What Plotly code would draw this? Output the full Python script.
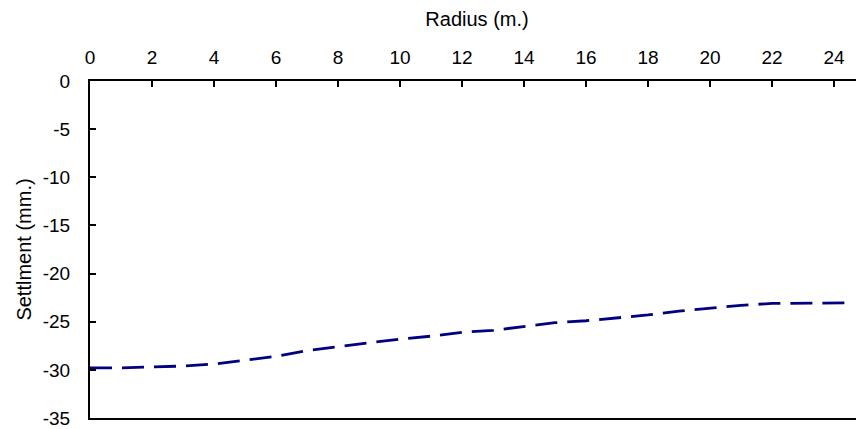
import plotly.graph_objects as go

radius = [0, 1, 2, 3, 4, 5, 6, 7, 8, 9, 10, 11, 12, 13, 14, 15, 16, 17, 18, 19, 20, 21, 22, 23, 24, 24.5]
settlement = [-29.8, -29.8, -29.7, -29.6, -29.4, -29.0, -28.6, -28.0, -27.6, -27.2, -26.8, -26.5,
              -26.1, -25.9, -25.5, -25.1, -24.9, -24.6, -24.3, -23.9, -23.6, -23.3, -23.1, -23.1,
              -23.1, -23.05]

x_ticks = list(range(0, 25, 2))
y_ticks = [0, -5, -10, -15, -20, -25, -30, -35]
y_tick_text = ["0", "-5", "-10", "-15", "-20", "-25", "-30", "-35"]

FONT = "Liberation Sans, Arial, sans-serif"

fig = go.Figure()
fig.add_trace(go.Scatter(
    x=radius, y=settlement, mode="lines",
    line=dict(color="#000080", width=2.8, dash="22px,10px"),
    showlegend=False,
))

# page body has an 8px margin, so the figure is offset by 8px
fig.update_layout(
    width=856, height=421,
    margin=dict(l=82, r=0, t=73, b=11),
    paper_bgcolor="white", plot_bgcolor="white",
    font=dict(family=FONT, size=19, color="black"),
    xaxis=dict(
        side="top", range=[0, 774 / 31], tickvals=x_ticks,
        showgrid=False, zeroline=False,
        showline=True, linecolor="black", linewidth=2, mirror=True,
        ticks="inside", ticklen=6, tickwidth=2, tickcolor="black",
        ticklabelstandoff=7,
        title=dict(text="Radius (m.)", standoff=17, font=dict(size=20)),
    ),
    yaxis=dict(
        range=[-35, 0], tickvals=y_ticks, ticktext=y_tick_text,
        showgrid=False, zeroline=False,
        showline=True, linecolor="black", linewidth=2,
        ticks="inside", ticklen=6, tickwidth=2, tickcolor="black",
        ticklabelstandoff=14,
        title=dict(text="Settlment (mm.)", standoff=6, font=dict(size=20)),
    ),
)

fig.write_html("out.html")
